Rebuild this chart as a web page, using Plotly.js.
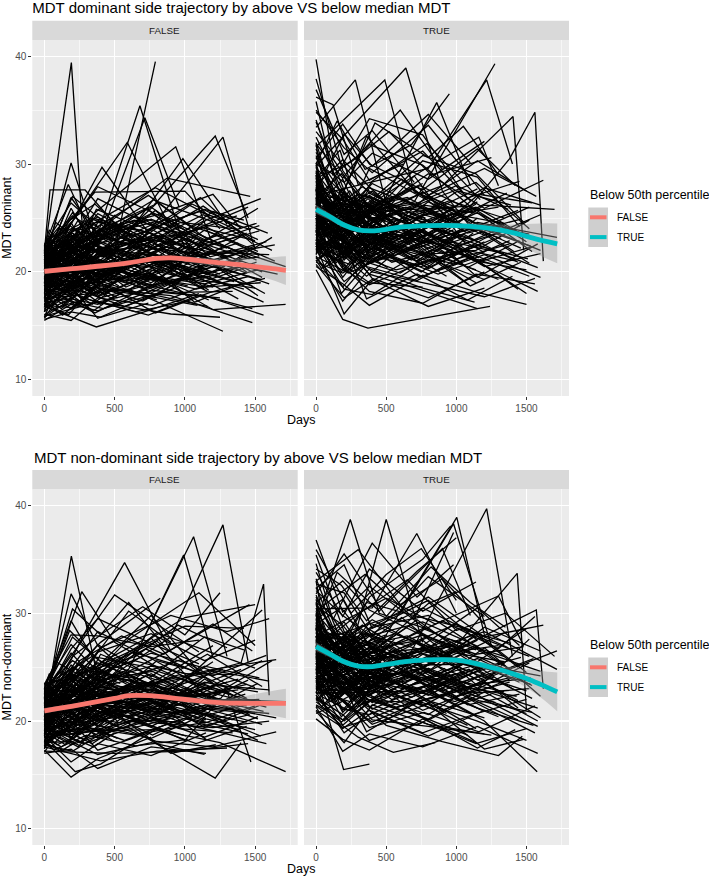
<!DOCTYPE html>
<html>
<head>
<meta charset="utf-8">
<script src="https://cdn.plot.ly/plotly-3.0.1.min.js"></script>
<style>html,body{margin:0;padding:0;background:#fff;}#chart{width:709px;height:876px;}</style>
</head>
<body>
<div id="chart"></div>
<script>
// ---- Data: each subject = [day, value, day, value, ...] ----
const dominantFalseSubjects = [
[0,20.1,190,21.5,370,19.8,740,22.4,1100,20.9],[0,18.4,180,19.2,400,17.6,760,18.9],[0,21.7,192,39.4,280,22.3,560,24.1],
[0,21.9,40,27.6,290,27.6,600,23.0],[0,19.5,500,22.0,790,39.5],[0,20.6,380,23.5,680,35.4,1000,22.1],
[0,21.2,420,24.0,715,34.3,960,26.0],[0,20.8,190,30.1,380,22.5,720,25.0],[0,22.3,170,28.1,410,21.4,800,23.3],
[0,19.9,410,29.7,730,23.8,1100,21.0],[0,21.0,590,32.0,900,24.0],[0,20.4,370,25.6,935,31.6,1200,22.5],
[0,18.9,560,22.9,986,30.5,1300,24.4],[0,21.6,780,26.2,1216,32.6,1450,25.0],[0,19.2,720,23.4,1271,32.5,1500,22.0],
[0,22.1,360,27.4,1000,27.5,1250,24.0],[0,20.0,873,28.7,1465,27.0],[0,16.8,370,14.9,760,16.5,1100,18.0],
[0,17.5,600,18.4,1271,14.5],[0,19.0,900,17.8,1480,15.3],[0,18.2,750,19.9,1200,16.5,1717,17.0],
[0,15.6,190,16.3,400,15.8,740,17.1],[0,15.9,380,17.2,900,16.1,1250,15.8],[0,22.4,200,25.2,390,23.6,780,26.7,1150,23.1],
[0,21.4,180,23.0,360,21.1,730,20.5,1090,22.8,1460,21.2],[0,20.9,210,22.1,400,24.4,760,21.6],
[0,19.7,190,20.8,380,18.6,750,20.2,1130,19.1,1500,20.7],[0,18.8,200,17.9,400,19.5,790,21.7,1170,18.3],
[0,17.9,190,19.6,370,20.4,740,18.2,1110,20.1,1480,18.7],[0,21.8,180,20.2,360,22.7,720,24.8,1080,22.0,1440,23.6],
[0,20.3,200,18.5,410,20.9,800,19.4,1190,21.8,1600,21.6],[0,19.4,190,22.6,390,21.9,780,23.2,1160,20.6,1540,19.3],
[0,22.0,190,24.6,380,20.1,760,22.9,1130,25.3,1520,23.0],[0,16.4,200,18.1,400,17.0,780,19.6,1170,17.4],
[0,17.1,170,16.0,350,18.7,700,17.3,1060,19.8,1420,18.4],[0,18.6,190,20.9,380,22.8,760,20.4,1140,23.9,1520,21.9],
[0,21.1,200,19.3,390,21.6,790,25.7,1180,21.4,1580,22.8],[0,20.7,190,23.7,380,25.1,760,22.2,1130,24.7],
[0,19.1,200,21.2,400,20.0,800,21.1,1200,19.9,1620,23.2],[0,15.8,180,17.4,360,16.2,730,18.6],
[0,22.5,190,26.4,380,24.2,740,27.1,1090,23.8],[0,20.2,170,22.3,340,24.9,690,23.1,1050,26.3,1400,24.1],
[0,18.0,190,18.8,380,21.0,760,19.0,1150,22.3,1550,19.5],[0,21.3,210,21.8,420,19.2,830,23.5,1240,20.4],
[0,19.6,190,19.0,380,23.3,770,24.6,1160,22.1,1560,20.3],[0,17.3,190,20.5,390,18.4,780,17.7,1170,20.9,1570,18.0],
[0,20.5,200,24.1,410,22.0,820,20.7,1220,23.4,1640,21.0],[0,21.5,180,20.7,370,25.8,740,23.9,1110,26.9,1480,22.6],
[0,16.1,190,15.5,380,17.6,770,16.9,1150,18.8],[0,18.5,210,17.2,420,16.6,830,18.1,1250,17.6],
[0,22.2,190,22.9,380,26.8,760,24.3,1140,22.4,1530,23.8],[0,20.0,190,19.6,380,21.4,760,22.8,1150,24.2,1530,21.5],
[0,19.3,200,23.9,400,24.7,790,21.5,1180,19.7],[0,21.9,190,18.9,380,20.6,760,18.5,1140,21.2,1520,17.8],
[0,18.1,190,21.4,370,19.1,740,23.7,1120,20.5,1500,22.4],[0,20.8,180,24.8,360,26.3,720,21.9,1080,24.0,1450,26.0],
[0,17.7,200,19.8,400,21.9,800,20.3,1200,18.6],[0,21.0,190,20.0,380,18.0,760,21.3,1130,19.4,1510,20.9],
[0,19.8,190,22.0,380,23.0,760,25.4,1140,23.0,1510,24.5],[0,16.6,180,18.3,360,19.3,720,17.8,1090,16.9],
[0,22.4,200,21.1,400,23.8,800,22.0,1200,25.6,1590,23.6],[0,20.6,190,26.9,380,23.4,760,26.0,1130,22.7],
[0,18.3,200,20.3,410,19.7,820,22.5,1230,21.0,1660,19.8],[0,21.7,190,23.3,380,21.8,760,19.6,1140,18.9,1520,20.2],
[0,19.0,180,18.1,360,20.2,710,21.0,1070,17.2,1420,19.0],[0,15.5,190,17.0,380,16.4,770,18.3,1160,17.7,1560,16.0],
[0,20.9,200,19.5,400,17.9,800,20.0,1200,22.0],[0,22.0,180,22.5,370,20.7,740,21.7,1100,23.5,1470,21.3],
[0,17.0,190,17.8,380,19.9,770,18.8,1160,19.6,1560,17.2],[0,19.5,190,21.0,370,22.4,740,21.2,1100,20.8,1460,22.0],
[0,21.4,200,25.5,400,22.1,790,24.1],[0,20.3,190,20.1,380,24.6,760,23.6,1130,21.7],
[0,18.7,180,22.7,360,20.8,720,19.3,1080,23.1,1440,20.0],[0,22.3,200,23.6,400,21.5,810,26.5,1210,24.6,1620,22.0],
[0,21.2,190,22.2,380,25.4,770,22.7,1170,20.1],[0,16.9,200,16.7,400,18.9,800,17.4],
[0,19.9,190,19.4,380,17.7,760,19.8,1140,22.6,1530,24.3],[0,20.4,200,23.1,400,24.9,790,27.8,1180,25.2],
[0,18.0,190,16.6,380,18.3,760,20.7,1140,19.2,1500,18.5],[0,21.6,190,21.7,380,23.1,760,24.9,1140,22.9,1520,25.9],
[0,17.4,200,19.1,400,19.0,790,16.2,1180,18.1,1570,19.4],[0,20.2,190,25.9,380,21.6,760,23.3,1130,26.1,1500,22.8],
[0,19.3,180,20.6,370,22.1,750,18.0,1120,20.3],[0,22.1,200,20.4,410,19.0,820,22.1,1230,21.6,1640,22.5],
[0,15.7,180,19.2,370,17.3,740,16.0,1110,17.9,1480,16.6],[0,20.7,190,21.9,380,19.3,760,24.0,1140,25.8,1420,24.8],
[0,18.6,190,19.7,380,22.2,770,23.0,1160,21.9,1550,20.0],[0,21.0,200,27.0,390,25.0,780,22.4],
[0,19.6,180,18.4,370,21.7,740,22.5,1110,19.5,1480,21.8],[0,20.1,190,23.4,380,20.3,770,21.0,1150,24.8,1540,26.8],
[0,17.6,190,18.0,380,20.5,760,21.4,1140,18.4],[0,22.2,180,24.3,360,22.6,730,25.9,1090,21.9],
[0,16.3,190,18.6,380,15.7,770,17.9,1160,16.8],[0,21.5,190,20.9,380,21.2,760,18.7,1150,22.9,1717,20.5],
[0,19.0,200,22.4,400,23.9,800,25.3,1200,27.2,1400,24.0],[0,20.6,190,24.5,380,27.9,760,25.6,1130,23.3,1510,21.1],
[0,18.2,200,21.8,400,20.8,800,19.1,1200,20.7,1600,18.9],[0,21.8,190,19.9,380,22.9,770,20.9,1160,18.2],
[0,20.0,180,22.8,360,19.6,730,23.9,1100,25.6,1470,23.9],[0,17.2,190,17.5,380,17.0,770,19.4,1150,18.6,1540,19.0],
[0,20.5,60,21.8,250,20.6,500,22.0,860,21.4,1250,19.8],[0,19.2,90,18.5,300,20.9,620,19.7,980,22.3],
[0,21.8,45,23.4,230,22.0,560,20.3,900,23.8,1300,22.2],[0,17.8,70,19.0,280,17.5,640,19.9,1020,18.7],
[0,22.0,100,21.0,330,24.2,700,22.6,1060,20.8,1400,23.3],[0,18.9,30,20.1,260,21.6,580,18.6,940,20.6,1350,19.1],
[0,20.8,120,19.0,350,21.0,720,20.4,1100,21.7],[0,16.5,80,17.9,300,19.0,650,18.0,1000,20.2,1380,17.5],
[0,21.3,50,22.6,240,24.0,520,23.0,880,25.0,1260,23.3],[0,19.5,110,20.3,330,18.7,680,21.8,1050,19.3],
[0,22.3,60,20.8,260,22.8,600,24.4,950,21.2,1330,22.0],[0,18.0,90,16.9,290,18.2,640,20.6,1010,17.9],
[0,20.0,40,19.3,220,22.4,540,21.3,900,19.0,1280,20.9],[0,21.1,130,23.0,360,19.9,740,22.0,1120,24.1,1500,22.9],
[0,17.0,75,18.6,280,16.9,610,17.9,980,19.4],[0,19.8,55,21.3,250,19.5,570,22.9,920,23.4,1300,21.4],
[0,22.5,100,24.1,320,21.9,660,23.0,1030,22.6],[0,16.0,85,16.7,300,17.5,650,16.3,1020,17.3],
[0,20.3,65,19.9,270,20.2,600,18.9,960,21.5,1340,20.5],[0,21.6,35,20.6,230,21.7,520,20.0,870,22.3,1250,21.0],
[0,18.3,120,19.7,340,20.7,700,19.6,1080,18.4,1460,19.6],[0,19.0,50,22.0,260,23.5,590,20.8,950,22.8],
[0,22.1,95,22.0,310,20.4,650,21.2,1000,20.1,1380,21.7],[0,20.6,140,21.4,380,22.6,770,23.9,1150,21.3],
[0,17.4,60,17.6,270,19.4,600,19.2,960,18.1,1340,18.2],[0,21.0,85,20.0,300,23.3,640,24.8,1000,23.5,1370,25.2],
[0,19.4,45,18.3,240,19.3,560,20.0,920,18.9],[0,20.9,110,22.4,330,21.1,680,19.9,1050,21.8,1440,19.9],
[0,18.7,70,20.9,280,22.3,620,21.5,980,20.4],[0,22.4,130,21.6,370,23.6,760,21.7,1140,20.7,1530,21.4],
[0,16.9,55,18.2,250,18.3,570,16.8,930,18.5],[0,21.5,80,24.6,300,22.3,630,25.2,990,24.0],
[0,19.7,100,19.2,320,21.8,660,22.3,1030,20.0,1410,21.0],[0,20.2,40,21.1,230,19.0,540,21.0,900,20.8,1290,18.8],
[0,18.5,125,18.0,350,20.0,710,18.5,1090,19.9],[0,21.9,65,22.2,270,23.7,610,22.5,970,24.6,1360,24.0],
[0,20.4,90,18.8,300,19.8,640,22.2,1000,19.6,1400,20.5],[0,17.6,50,19.5,250,20.5,560,19.5,920,19.1],
[0,22.2,115,23.5,340,25.0,700,23.8,1080,22.0],[0,19.1,70,20.5,290,18.9,620,20.9,990,21.0,1380,22.7],
[0,20.7,30,21.5,120,20.0,220,22.3,330,21.0,480,22.9],[0,18.3,40,19.5,140,18.1,250,20.2,370,19.0,520,20.6],
[0,21.5,25,22.8,110,21.3,210,23.5,320,22.0,460,24.0],[0,17.2,50,18.0,150,17.1,260,18.8,390,17.8,540,19.5],
[0,19.4,35,20.9,130,19.6,240,21.4,350,20.3,500,21.9],[0,22.2,45,21.0,145,22.6,255,21.3,380,23.4,530,22.2],
[0,16.3,30,17.5,120,16.6,230,17.9,340,17.0,490,18.4],[0,20.0,55,18.8,160,20.5,270,19.3,400,20.8,560,19.6],
[0,21.2,40,19.8,135,21.8,245,20.4,360,22.5,510,21.1],[0,18.8,30,17.9,125,19.2,235,18.0,345,19.8,495,18.9],
[0,19.9,50,21.8,150,23.0,260,21.9,380,23.6,540,22.8],[0,22.4,35,23.9,130,22.4,240,24.8,355,23.0,505,25.3],
[0,17.8,45,16.8,140,18.4,250,17.3,370,18.6,520,17.6],[0,20.3,25,19.1,115,20.8,220,19.7,330,21.5,470,20.1],
[0,21.8,55,20.9,155,22.0,265,23.2,390,21.6,550,23.7],[0,19.0,40,20.3,135,21.2,245,19.4,360,20.6,510,21.8],
[0,15.8,35,16.9,130,16.0,240,17.2,350,16.4,500,17.8],[0,20.9,45,22.5,145,21.1,255,20.6,380,22.1,530,20.9],
[0,18.5,30,18.9,120,20.4,230,21.1,340,19.5,490,20.3],[0,21.4,50,21.9,150,19.9,260,21.8,380,20.2,540,22.4],
[0,19.6,40,18.4,140,19.7,250,18.9,370,20.7,520,19.3],[0,22.0,35,22.3,130,24.1,240,22.9,350,24.4,500,23.1],
[0,17.5,45,18.7,145,19.3,255,18.1,380,19.9,530,18.7],[0,20.5,30,20.1,125,21.9,235,22.7,345,21.4,495,22.6],
[0,19.2,55,19.8,155,18.6,265,20.1,390,18.8,550,20.8],[0,21.1,40,23.1,135,21.7,245,23.8,360,22.4,510,24.5],
[0,16.7,35,18.1,130,17.7,240,16.8,350,18.5,500,17.4],[0,20.2,50,21.2,150,20.2,260,21.6,380,19.4,540,21.3],
[0,18.0,25,19.3,115,18.7,220,19.9,330,18.3,470,19.8],[0,21.7,45,20.4,145,21.4,255,22.0,380,20.5,530,21.9]
];
const dominantTrueSubjects = [
[0,39.7,120,30.5,300,27.0,600,24.1],[0,37.9,190,29.4,380,26.0,760,28.2],[0,36.2,121,35.5,300,28.1,620,30.0],
[0,33.4,280,37.8,500,26.3,780,25.0],[0,31.6,490,37.8,700,27.4,1000,26.0],[0,29.8,640,38.9,900,27.5,1100,24.2],
[0,20.2,190,15.6,370,14.8,1240,16.8],[0,22.4,200,16.1,380,19.0,760,18.6],[0,26.5,460,26.0,860,35.7,1100,28.0],
[0,24.8,700,26.5,1275,39.3],[0,27.1,800,29.6,1216,37.8,1400,30.0],[0,23.5,900,28.0,1404,34.4,1480,22.0],
[0,25.3,1100,26.1,1380,30.5,1560,34.8,1620,21.0],[0,35.0,200,31.5,400,29.2,800,33.6,1200,27.1],
[0,34.1,180,26.9,360,32.6,720,27.3,1080,25.0],[0,32.5,190,27.5,380,25.1,760,30.3,1150,28.8,1450,24.2],
[0,30.8,200,24.7,400,28.4,790,31.9,1170,26.7],[0,29.4,190,22.6,380,25.5,770,22.9,1160,27.2,1540,26.4],
[0,28.6,170,31.3,350,24.0,700,28.9,1060,22.7],[0,27.9,190,23.4,380,27.8,760,25.9,1140,23.8,1520,26.0],
[0,26.7,200,20.1,400,22.7,800,26.5,1200,24.1,1600,22.0],[0,25.9,190,28.6,380,23.2,770,21.1,1150,25.0],
[0,25.0,180,21.7,360,19.6,720,23.5,1080,20.4,1450,22.9],[0,24.4,200,26.3,400,21.0,800,24.2,1200,22.3,1580,20.4],
[0,23.7,190,19.5,370,22.5,750,20.0,1120,23.6],[0,23.1,190,25.2,380,27.1,760,23.7,1140,21.5,1520,19.6],
[0,22.6,200,18.4,400,17.9,800,21.2,1200,19.3],[0,22.0,180,20.9,360,24.6,730,22.1,1100,18.7,1460,20.9],
[0,21.5,190,17.3,380,20.3,760,18.5,1130,17.2],[0,21.0,200,22.8,400,19.4,800,17.6,1200,20.0],
[0,20.5,190,18.9,380,16.9,760,19.7,1150,18.1,1500,17.0],[0,27.3,190,24.3,380,29.6,770,26.8,1150,30.3,1500,27.5],
[0,28.2,200,26.6,400,23.6,800,20.3,1200,23.1,1600,25.3],[0,26.1,180,22.4,370,25.8,740,28.0,1110,25.7],
[0,24.0,190,27.7,380,24.7,760,27.4,1140,24.5,1520,23.5],[0,31.1,190,25.9,380,21.8,770,24.6,1160,21.3],
[0,29.0,200,21.1,400,23.9,800,22.7,1200,26.2,1700,25.8],[0,27.6,190,25.0,380,26.5,760,30.8,1140,29.1,1480,24.6],
[0,25.6,180,23.8,360,20.5,720,19.2,1080,21.7,1440,18.4],[0,24.6,200,21.3,400,24.3,800,23.0,1200,20.6,1580,18.2],
[0,23.3,190,24.0,380,22.0,770,25.3,1150,27.7],[0,22.8,190,20.6,380,18.2,760,17.1,1140,19.8,1560,18.9],
[0,30.2,200,28.3,400,31.0,800,28.6,1200,32.1],[0,33.0,190,29.9,380,27.3,760,24.9,1150,22.8],
[0,26.9,180,29.1,360,26.2,730,24.0,1090,26.9,1450,28.4],[0,25.2,190,22.1,380,23.4,760,21.6,1140,22.0,1520,24.8],
[0,24.1,200,25.6,400,28.2,800,25.6,1200,23.4],[0,22.3,190,23.1,380,20.8,760,22.4,1150,24.6,1717,23.2],
[0,28.9,190,20.7,380,19.0,760,21.9,1140,20.2],[0,27.0,200,24.9,400,22.6,800,27.1,1200,29.6,1570,27.0],
[0,25.5,190,26.9,370,21.5,750,20.5,1130,22.5,1510,21.2],[0,24.3,180,18.0,360,20.7,720,22.6,1090,18.8],
[0,23.0,190,21.9,380,24.9,770,26.2,1160,25.4,1550,23.0],[0,21.8,200,24.2,400,26.0,800,24.7,1200,21.8],
[0,20.9,190,19.9,380,21.4,760,23.8,1150,20.9,1530,22.3],[0,32.0,180,24.5,370,26.8,740,22.3],
[0,29.6,200,27.2,400,25.4,800,29.1,1200,25.9,1620,28.5],[0,28.0,190,30.4,380,27.9,760,23.3,1140,26.3],
[0,26.3,190,21.6,380,23.0,760,25.1,1140,21.0,1500,20.2],[0,25.1,200,27.4,400,22.3,800,19.8,1200,21.6,1600,19.5],
[0,24.7,180,23.2,360,25.3,720,27.9,1080,23.9,1440,25.7],[0,23.9,190,20.3,380,18.8,760,20.9,1150,22.4],
[0,22.2,200,22.3,400,20.0,800,18.9,1200,17.7,1560,19.4],[0,21.3,190,18.6,380,21.6,760,24.3,1140,22.9],
[0,34.8,190,32.3,380,28.5,760,31.2,1100,26.6],[0,36.9,200,30.9,400,33.1,700,28.3],
[0,30.5,190,33.7,380,30.0,760,27.6,1150,31.4,1420,28.0],[0,27.5,200,32.8,400,29.8,800,34.6,1100,30.1],
[0,26.0,190,30.0,380,34.2,760,32.7,1050,27.3],[0,24.9,190,24.0,380,26.2,770,29.5,1160,32.5,1300,28.0],
[0,23.6,180,26.1,360,23.7,720,21.0,1080,24.4,1460,22.2],[0,22.7,200,19.1,400,21.2,800,23.6,1200,20.5,1600,21.7],
[0,21.2,190,22.4,380,19.8,760,18.3,1150,16.6],[0,29.2,190,26.0,380,24.5,760,26.4,1140,28.3,1520,24.0],
[0,27.7,190,22.9,380,25.7,760,23.2,1150,25.5,1540,21.9],[0,26.2,200,25.8,400,27.5,800,22.9,1200,24.3],
[0,24.2,190,22.9,380,21.2,760,24.6,1140,26.0,1480,23.4],[0,23.2,180,20.0,370,22.8,740,19.5,1110,21.4,1500,18.0],
[0,22.5,190,21.3,380,23.5,760,21.8,1140,19.0],[0,20.7,200,17.6,400,19.3,800,16.8,1200,18.5],
[0,31.9,190,28.7,380,31.8,760,29.9,1140,25.6],[0,28.4,200,23.0,400,26.6,800,24.4,1200,27.8,1600,26.2],
[0,25.8,190,24.4,380,20.9,770,23.9,1150,19.5,1580,22.6],[0,24.5,190,27.0,380,25.0,760,22.0,1140,24.0,1520,20.8],
[0,23.4,200,21.8,400,23.1,800,20.4,1200,22.8],[0,21.7,180,23.5,360,17.5,720,19.8,1080,17.4,1400,19.6],
[0,35.8,120,29.0,300,30.8,600,35.0,900,29.5],[0,33.9,200,27.6,420,33.8,800,30.6,1050,33.5,1300,29.0],
[0,30.0,150,34.0,350,29.5,680,31.8,950,36.5],[0,28.7,250,30.2,520,33.0,820,29.0,1250,30.6],
[0,26.0,60,24.2,260,25.0,580,23.0,940,24.9,1320,23.1],[0,23.8,90,22.5,300,24.1,640,22.0,1000,23.3],
[0,28.3,45,26.7,240,25.6,560,27.0,920,25.2,1300,26.0],[0,24.9,70,26.4,280,23.1,620,21.9,980,23.9],
[0,21.9,100,23.0,330,21.7,690,24.0,1050,22.1,1430,21.0],[0,27.5,30,25.1,250,22.4,590,24.6,950,26.6,1340,25.0],
[0,25.4,120,21.0,350,23.6,720,25.5,1100,24.0],[0,29.7,80,27.0,300,26.4,650,24.4,1010,27.5,1390,26.2],
[0,22.7,50,21.6,240,20.7,530,22.9,890,21.0,1270,23.1],[0,26.8,110,25.7,330,27.9,680,25.0,1050,23.0],
[0,24.3,60,25.8,260,26.5,600,24.8,960,22.7,1340,24.4],[0,30.6,90,28.0,290,23.9,640,26.0,1010,24.6],
[0,23.0,40,22.2,220,23.7,540,20.9,900,22.2,1280,20.6],[0,27.9,130,24.9,360,22.5,740,23.8,1120,25.9,1500,22.8],
[0,25.0,75,23.6,280,22.2,610,24.1,980,21.8],[0,21.4,55,20.4,250,21.8,570,20.2,920,21.3,1300,19.3],
[0,28.8,100,26.2,320,24.8,660,27.8,1030,25.3],[0,24.6,85,24.0,300,25.9,650,26.9,1020,24.3,1420,23.6],
[0,26.4,65,23.5,270,24.0,600,22.8,960,25.4,1340,24.5],[0,22.2,35,21.2,230,19.9,520,21.6,870,19.8,1250,21.5],
[0,31.4,120,27.7,340,25.6,700,26.3,1080,23.6,1460,24.9],[0,25.8,50,27.0,260,24.3,590,25.4,950,26.0],
[0,23.5,95,20.9,310,22.9,650,23.4,1000,21.2,1380,22.6],[0,27.2,140,25.4,380,27.0,770,24.0,1150,26.5],
[0,24.0,60,22.8,270,21.3,600,19.9,960,22.8,1340,21.7],[0,29.2,85,25.5,300,27.2,640,25.9,1000,28.0,1370,25.8],
[0,22.9,45,24.4,240,22.6,560,24.5,920,20.8],[0,26.6,110,22.1,330,23.3,680,21.1,1050,23.5,1440,20.9],
[0,25.1,70,25.9,280,26.9,620,23.9,980,25.8],[0,28.0,130,26.8,370,24.4,760,22.7,1140,24.2,1530,22.4],
[0,21.7,55,22.6,250,23.9,570,22.4,930,19.6],[0,30.0,80,29.3,300,25.2,630,24.7,990,26.1],
[0,24.4,100,23.2,320,20.4,660,22.6,1030,25.1,1410,21.9],[0,26.9,40,24.6,230,26.1,540,23.6,900,21.7,1290,23.9],
[0,23.3,125,24.6,350,21.9,710,20.7,1090,22.0],[0,27.7,65,24.0,270,25.3,610,28.6,970,24.8,1360,27.3],
[0,25.6,90,21.8,300,22.0,640,24.3,1000,22.4,1400,24.0],[0,22.5,50,23.3,250,25.1,560,21.5,920,23.9],
[0,29.0,115,23.8,340,21.2,700,23.1,1080,21.9],[0,24.8,70,26.0,290,24.6,620,22.0,990,20.7,1380,22.9],
[0,26.3,30,25.0,120,23.6,220,24.9,330,23.2,480,25.1],[0,23.4,40,24.5,140,22.6,250,23.8,370,21.9,520,23.5],
[0,28.7,25,27.1,110,25.8,210,27.0,320,24.9,460,26.4],[0,24.6,50,23.0,150,21.5,260,23.3,390,22.1,540,24.2],
[0,21.6,35,22.7,130,21.0,240,22.5,350,20.6,500,22.0],[0,27.8,45,25.5,145,26.3,255,24.4,380,25.9,530,24.0],
[0,25.1,30,26.7,120,24.8,230,26.1,340,23.9,490,25.5],[0,30.1,55,27.6,160,25.7,270,26.8,400,24.6,560,26.6],
[0,22.8,40,21.4,135,22.9,245,21.2,360,23.0,510,21.7],[0,26.9,30,24.3,125,25.4,235,23.5,345,24.8,495,23.0],
[0,24.0,50,25.8,150,24.0,260,25.6,380,26.2,540,24.5],[0,29.3,35,28.0,130,26.1,240,27.5,355,25.3,505,27.0],
[0,23.0,45,22.1,140,20.8,250,22.4,370,21.3,520,22.9],[0,27.2,25,26.0,115,24.4,220,25.2,330,23.7,470,24.8],
[0,25.5,55,23.7,155,24.6,265,22.8,390,24.1,550,23.3],[0,21.1,40,20.3,135,21.7,245,20.1,360,21.6,510,20.4],
[0,31.8,35,29.4,130,27.3,240,26.0,350,27.2,500,25.6],[0,24.3,45,25.2,145,23.3,255,24.7,380,22.6,530,24.0],
[0,26.0,30,24.7,120,26.4,230,24.2,340,25.7,490,23.8],[0,22.3,50,23.6,150,22.2,260,21.0,380,22.7,540,21.4],
[0,28.1,40,26.6,140,24.7,250,25.9,370,24.0,520,25.4],[0,25.0,35,23.2,130,23.9,240,22.3,350,23.6,500,22.8],
[0,23.7,45,24.8,145,23.6,255,22.9,380,24.4,530,23.1],[0,27.6,30,25.8,125,27.2,235,25.0,345,26.5,495,24.6],
[0,24.8,55,22.6,155,23.4,265,24.5,390,23.0,550,24.9],[0,29.9,40,27.3,135,26.0,245,24.1,360,25.4,510,23.9],
[0,22.0,35,22.9,130,24.0,240,22.7,350,21.6,500,23.3],[0,26.5,50,25.3,150,23.8,260,25.0,380,23.4,540,25.7],
[0,23.9,25,21.9,115,22.8,220,21.5,330,22.9,470,21.2],[0,28.4,45,27.0,145,25.1,255,26.4,380,24.3,530,26.0]
];
const nonDominantFalseSubjects = [
[0,20.4,192,35.3,380,24.0,760,21.5],[0,21.6,190,31.8,380,27.0,700,23.2],[0,22.1,266,32.0,500,27.3,800,25.0],
[0,20.8,300,28.5,571,34.7,900,26.5],[0,19.9,400,25.4,700,27.5,991,35.4,1200,25.9],[0,21.2,600,24.8,1062,37.1,1300,26.0],
[0,20.1,900,27.8,1271,38.2,1450,25.5],[0,22.6,500,31.7,800,29.0,1100,26.4],[0,21.9,400,27.3,825,31.4],
[0,20.6,900,26.6,1460,30.8],[0,21.3,1000,24.0,1400,25.4,1560,32.7,1600,22.4],[0,22.8,1000,28.8,1420,28.6],
[0,17.3,190,14.8,380,16.5,760,18.5],[0,18.5,600,19.4,1216,14.7,1400,18.0],[0,19.0,800,19.2,1250,18.0,1717,15.3],
[0,17.0,190,17.4,380,15.6,760,17.6,1150,17.0],[0,17.6,400,16.3,800,17.2,1300,17.5],
[0,23.4,190,28.0,380,27.9,760,26.9,1100,27.5],[0,23.1,200,25.6,400,24.0,800,28.2,1200,26.3,1500,24.9],
[0,22.4,190,26.3,380,23.7,760,25.1,1150,24.0],[0,22.0,180,23.9,360,25.9,720,23.0,1080,22.3,1440,23.4],
[0,21.7,200,21.2,400,23.4,800,24.9,1200,22.6,1580,21.3],[0,21.4,190,23.3,380,21.9,760,21.2,1140,23.6,1520,22.7],
[0,21.1,190,19.8,380,22.5,760,23.6,1150,20.5,1540,21.9],[0,20.9,200,22.6,400,20.4,800,22.7,1200,21.8],
[0,20.7,180,24.5,360,22.8,720,20.1,1090,22.9,1460,20.6],[0,20.5,190,21.6,380,24.3,760,26.3,1140,24.9,1500,23.1],
[0,20.3,200,19.0,400,20.9,800,19.8,1200,19.4,1600,20.0],[0,20.0,190,22.1,380,19.4,760,21.9,1140,20.0],
[0,19.8,190,20.4,380,21.2,770,18.7,1160,21.1,1550,19.7],[0,19.6,180,18.2,360,19.9,720,22.2,1090,19.8,1450,18.8],
[0,19.4,200,21.0,400,22.2,800,20.6,1200,23.1],[0,19.2,190,17.8,380,18.6,760,20.3,1140,18.5,1520,20.4],
[0,19.0,190,20.0,380,17.3,760,19.0,1150,19.9],[0,18.8,200,18.8,400,20.1,800,18.1,1200,17.6,1650,19.0],
[0,18.6,190,16.2,380,17.9,760,16.8,1150,18.9],[0,18.3,180,19.5,360,21.0,720,19.6,1080,17.9,1440,19.5],
[0,18.0,190,18.1,380,16.9,760,18.0,1140,16.9],[0,17.8,200,17.2,400,18.8,800,20.2,1200,19.1,1580,17.9],
[0,23.0,190,22.7,380,26.4,760,28.1,1140,25.6,1500,27.5],[0,22.7,200,27.8,400,25.5,800,23.8,1200,27.0],
[0,22.3,190,24.9,380,28.3,760,25.8,1150,23.0,1550,25.6],[0,21.8,180,22.0,360,24.1,720,26.7,1080,24.5,1440,22.1],
[0,21.5,190,24.1,380,20.7,760,22.4,1140,25.1,1530,24.0],[0,21.0,200,20.8,400,23.9,800,21.0,1200,23.3,1600,22.9],
[0,20.6,190,23.0,380,22.0,760,24.4,1140,21.7],[0,20.2,190,20.9,380,23.1,770,23.3,1160,26.2,1550,23.2],
[0,19.7,180,22.8,360,20.6,720,22.9,1090,21.6,1450,23.8],[0,19.3,200,19.9,400,21.5,800,23.9,1200,21.2,1600,20.7],
[0,18.9,190,21.9,380,20.0,760,21.6,1140,22.4],[0,18.4,190,20.7,380,22.6,760,20.9,1150,20.7,1540,18.6],
[0,18.1,200,19.3,400,19.1,800,21.4,1200,20.4],[0,17.5,190,20.2,380,19.6,760,18.4,1140,20.6,1520,18.2],
[0,22.9,190,29.3,380,25.1,760,29.8,1100,24.6],[0,22.5,180,28.4,360,26.0,600,30.2,900,27.3],
[0,21.7,200,26.0,420,28.2,700,30.6,1000,28.0,1250,31.9],[0,20.9,250,25.6,550,27.9,850,26.2,1200,29.0,1480,26.5],
[0,22.2,300,24.6,650,26.0,950,28.9,1300,26.8],[0,21.3,190,25.2,380,23.0,760,27.7,1140,22.4,1420,21.0],
[0,20.4,200,21.3,400,26.2,800,24.0,1200,22.0,1717,21.8],[0,19.5,190,24.3,380,21.8,760,20.0,1140,23.9,1450,21.6],
[0,23.3,190,27.1,380,24.6,760,23.1,1140,21.0,1520,23.5],[0,22.8,200,23.7,400,21.2,800,25.6,1200,24.2,1580,26.1],
[0,18.7,190,23.5,380,21.3,760,23.0,1150,20.2,1500,19.2],[0,20.0,180,18.9,360,22.4,720,21.4,1080,23.2,1400,24.8],
[0,21.6,190,20.3,380,19.0,760,22.6,1140,19.4,1560,21.6],[0,20.8,200,25.0,400,23.8,800,22.1,1200,25.5],
[0,19.1,190,22.4,380,24.9,760,22.5,1140,21.9,1620,25.6],[0,17.9,190,19.7,380,21.5,760,22.0,1150,18.3],
[0,22.0,200,30.4,400,28.0,600,31.0,850,27.0],[0,19.6,600,27.6,1100,31.9,1500,27.0],
[0,21.0,350,23.5,600,26.4,1000,29.6,1500,30.8],[0,20.3,400,26.8,900,29.8,1300,28.3,1600,29.5],
[0,22.4,900,22.6,1550,30.3],[0,21.2,1200,24.8,1650,25.7],[0,20.6,180,19.4,500,20.7,900,17.0,1220,17.8],
[0,19.4,600,20.5,1000,18.2,1300,22.8,1470,16.2],[0,18.2,220,15.3,400,16.0,800,19.3],[0,17.2,500,17.0,1000,17.2,1450,17.9],
[0,23.5,190,23.9,380,27.1,760,24.1,1140,27.8,1420,26.6],[0,21.9,190,21.5,380,20.3,760,23.7,1140,22.1,1560,20.9],
[0,20.7,190,23.8,380,25.4,760,23.4,1150,21.2],[0,19.9,200,21.7,400,22.9,800,21.1,1200,24.7,1600,23.7],
[0,21.4,190,19.1,380,21.4,760,19.5,1140,22.0,1520,20.2],[0,22.6,200,22.4,400,25.0,800,27.4,1200,23.5],
[0,18.5,190,20.8,380,18.4,760,20.9,1140,19.8,1500,21.4],[0,20.1,180,22.9,360,21.7,720,24.2,1080,20.8,1440,19.9],
[0,19.3,190,18.5,380,20.5,760,21.8,1150,20.1],[0,23.2,200,24.4,400,22.9,800,20.4,1200,21.4,1650,20.3],
[0,22.2,190,26.7,380,29.5,760,27.2,1100,25.3],
[0,21.0,60,22.1,260,21.4,580,23.3,940,21.9,1320,22.8],[0,19.6,90,18.7,300,20.6,640,21.0,1000,19.2],
[0,22.4,45,23.9,240,22.9,560,24.6,920,22.1,1300,23.6],[0,18.4,70,19.6,280,18.3,620,20.1,980,19.9],
[0,20.6,100,21.4,330,23.6,690,22.1,1050,20.9,1430,22.5],[0,19.1,30,20.6,250,21.9,590,20.4,950,21.6,1340,20.1],
[0,21.7,120,20.0,350,21.9,720,23.6,1100,22.0],[0,17.7,80,18.9,300,19.4,650,18.7,1010,20.3,1390,19.2],
[0,22.0,50,22.8,240,25.3,530,24.0,890,23.0,1270,24.8],[0,20.0,110,20.9,330,19.5,680,21.6,1050,20.3],
[0,23.1,60,21.5,260,23.3,600,22.8,960,24.3,1340,22.4],[0,18.9,90,17.8,290,19.0,640,20.0,1010,18.6],
[0,20.4,40,20.0,220,22.1,540,21.8,900,20.7,1280,21.9],[0,21.5,130,23.3,360,21.5,740,21.0,1120,23.2,1500,21.8],
[0,17.6,75,19.1,280,17.9,610,19.3,980,20.5],[0,20.9,55,22.5,250,20.8,570,22.4,920,24.1,1300,22.7],
[0,22.8,100,24.6,320,22.7,660,21.9,1030,23.1],[0,18.1,85,17.4,300,18.7,650,17.7,1020,18.3],
[0,21.2,65,21.0,270,21.1,600,20.5,960,22.5,1340,21.2],[0,22.6,35,21.8,230,22.3,520,23.9,870,21.3,1250,22.1],
[0,19.3,120,20.1,340,21.6,700,21.2,1080,19.4,1460,20.6],[0,20.1,50,22.7,260,24.5,590,22.6,950,20.8],
[0,23.0,95,22.3,310,21.5,650,23.0,1000,22.5,1380,23.9],[0,21.4,140,22.5,380,23.8,770,24.6,1150,22.2],
[0,18.6,60,18.3,270,20.3,600,20.9,960,19.3,1340,18.9],[0,21.8,85,20.7,300,24.0,640,25.6,1000,24.4,1370,24.3],
[0,20.3,45,19.2,240,20.4,560,19.8,920,21.2],[0,21.9,110,23.2,330,22.4,680,21.4,1050,22.7,1440,21.4],
[0,19.8,70,21.8,280,23.0,620,22.9,980,21.4],[0,22.9,130,22.8,370,24.4,760,23.3,1140,21.9,1530,22.0],
[0,18.0,55,19.4,250,19.7,570,18.2,930,20.0],[0,22.2,80,25.5,300,23.9,630,26.4,990,25.0],
[0,20.7,100,20.3,320,22.9,660,24.0,1030,21.3,1410,20.8],[0,21.3,40,22.0,230,20.6,540,22.3,900,21.9,1290,19.9],
[0,19.5,125,19.0,350,21.3,710,19.9,1090,21.0],[0,22.7,65,23.1,270,24.8,610,24.0,970,25.7,1360,23.0],
[0,21.1,90,19.7,300,20.9,640,23.5,1000,20.6,1400,21.9],[0,18.8,50,20.5,250,21.4,560,21.0,920,20.2],
[0,23.3,115,24.2,340,26.0,700,25.1,1080,23.4],[0,20.0,70,21.3,290,20.1,620,22.1,990,22.3,1380,22.9],
[0,21.2,30,22.0,120,20.8,220,23.0,330,21.8,480,23.6],[0,18.8,40,20.0,140,18.8,250,20.8,370,19.7,520,21.3],
[0,22.1,25,23.3,110,22.0,210,24.1,320,22.7,460,24.6],[0,17.9,50,18.6,150,17.8,260,19.5,390,18.6,540,20.2],
[0,20.0,35,21.4,130,20.2,240,22.0,350,21.0,500,22.6],[0,22.7,45,21.6,145,23.2,255,21.9,380,24.0,530,22.9],
[0,17.4,30,18.3,120,17.6,230,18.6,340,17.9,490,19.2],[0,20.5,55,19.4,160,21.1,270,20.0,400,21.5,560,20.3],
[0,21.6,40,20.4,135,22.3,245,21.0,360,23.1,510,21.8],[0,19.3,30,18.5,125,19.9,235,18.7,345,20.5,495,19.6],
[0,20.4,50,22.3,150,23.6,260,22.5,380,24.2,540,23.5],[0,23.0,35,24.4,130,23.0,240,25.3,355,23.7,505,25.9],
[0,18.3,45,17.5,140,19.0,250,18.0,370,19.3,520,18.4],[0,20.9,25,19.7,115,21.4,220,20.4,330,22.2,470,20.8],
[0,22.3,55,21.5,155,22.6,265,23.9,390,22.3,550,24.3],[0,19.6,40,20.8,135,21.8,245,20.1,360,21.3,510,22.5],
[0,17.1,35,17.8,130,17.3,240,18.2,350,17.6,500,18.9],[0,21.4,45,23.0,145,21.7,255,21.3,380,22.8,530,21.6],
[0,19.0,30,19.5,120,21.0,230,21.8,340,20.2,490,21.0],[0,21.9,50,22.4,150,20.5,260,22.5,380,20.9,540,23.1],
[0,20.1,40,19.0,140,20.3,250,19.6,370,21.4,520,20.0],[0,22.5,35,22.9,130,24.6,240,23.6,350,25.1,500,23.8],
[0,18.1,45,19.3,145,19.9,255,18.8,380,20.6,530,19.4],[0,21.0,30,20.7,125,22.5,235,23.4,345,22.1,495,23.3],
[0,19.8,55,20.4,155,19.2,265,20.8,390,19.5,550,21.5],[0,21.7,40,23.6,135,22.3,245,24.5,360,23.1,510,25.2],
[0,17.7,35,18.8,130,18.4,240,17.6,350,19.2,500,18.1],[0,20.7,50,21.8,150,20.8,260,22.3,380,20.1,540,22.0],
[0,18.6,25,19.9,115,19.3,220,20.6,330,19.0,470,20.5],[0,22.2,45,21.0,145,22.0,255,22.7,380,21.2,530,22.6]
];
const nonDominantTrueSubjects = [
[0,24.2,196,15.5,380,16.0],[0,21.4,300,18.5,551,17.1,850,18.0],[0,23.0,600,24.5,1216,39.7,1400,26.0],
[0,25.6,500,28.0,1003,38.9,1200,28.0],[0,27.3,600,30.0,980,38.3,1250,27.0],[0,29.1,244,38.7,450,30.0,800,28.5],
[0,26.5,258,27.0,500,38.7,760,27.3],[0,30.4,400,30.5,718,37.4,1000,30.0],[0,22.6,800,22.8,1200,20.0,1576,15.3],
[0,24.9,1000,27.0,1434,33.7,1500,21.0],[0,23.8,900,26.0,1570,30.3,1620,23.0],[0,36.8,190,30.1,380,32.5,760,28.8,1100,26.3],
[0,35.4,200,28.3,400,26.3,800,30.9,1000,32.0],[0,34.1,180,32.6,360,29.3,720,33.9,1000,37.0],
[0,33.2,190,27.0,380,31.5,760,35.0,960,38.1],[0,32.3,200,34.5,400,28.6,800,31.2,1150,27.5],
[0,31.5,190,26.0,380,29.1,760,27.0,1150,30.5,1450,27.0],[0,30.7,190,28.9,380,25.8,760,28.6,1140,26.6],
[0,29.8,200,25.2,400,27.7,800,24.6,1200,28.7,1600,26.5],[0,29.0,180,30.5,360,27.4,720,25.5,1080,27.1],
[0,28.3,190,24.6,380,22.9,760,26.2,1150,24.3,1500,22.8],[0,27.7,200,27.6,400,24.4,800,22.4,1200,25.0],
[0,27.1,190,23.1,380,25.7,760,27.5,1140,23.4,1530,24.0],[0,26.6,190,26.7,380,23.0,770,24.1,1160,21.9,1540,20.8],
[0,26.1,180,22.3,360,24.6,720,22.8,1090,25.6,1450,23.6],[0,25.7,200,24.0,400,21.7,800,24.9,1200,22.8,1580,21.2],
[0,25.3,190,20.8,380,23.5,760,21.4,1140,24.0],[0,24.8,190,25.4,380,26.8,760,23.5,1150,21.2,1550,19.6],
[0,24.4,200,21.7,400,19.9,800,22.1,1200,23.6,1600,20.3],[0,24.0,180,23.6,360,21.4,720,19.6,1080,22.2,1440,20.1],
[0,23.6,190,19.6,380,21.8,760,23.2,1140,20.5],[0,23.1,190,22.0,380,19.4,770,20.8,1160,19.0,1560,21.4],
[0,22.7,200,18.9,400,20.8,800,18.6,1200,21.0],[0,22.2,190,20.6,380,18.2,760,19.9,1140,17.9,1500,19.3],
[0,21.8,180,19.9,360,22.0,720,20.6,1080,18.7],[0,21.3,190,17.2,380,18.8,760,17.6,1150,19.5,1580,17.0],
[0,20.7,200,21.9,400,19.7,800,21.6,1200,17.4,1480,18.3],[0,20.2,190,18.3,380,17.3,760,20.2,1140,18.0],
[0,33.8,190,29.7,380,34.1,760,30.2,1140,32.9],[0,32.7,200,31.9,400,27.9,800,33.4,1200,29.7],
[0,31.0,190,33.0,380,30.3,760,27.9,1150,25.5,1500,28.6],[0,30.0,180,27.3,360,31.0,720,29.7,1090,28.5,1440,25.0],
[0,29.4,190,31.3,380,26.9,760,25.0,1140,27.9,1520,26.0],[0,28.6,200,26.2,400,28.7,800,29.8,1200,26.4,1600,24.6],
[0,28.0,190,28.1,380,24.0,760,26.8,1150,24.9],[0,27.4,190,25.5,380,27.3,760,24.2,1140,22.9,1520,25.4],
[0,26.9,200,29.2,400,25.2,800,27.8,1200,25.7,1580,23.4],[0,26.3,180,24.7,360,26.1,720,29.4,1080,26.0],
[0,25.9,190,22.6,380,24.4,760,22.6,1150,24.6,1540,22.1],[0,25.5,200,26.0,400,22.3,800,20.6,1200,23.9,1717,26.5],
[0,25.0,190,23.4,380,25.2,760,25.8,1140,28.2,1500,24.5],[0,24.6,180,20.4,360,22.6,720,24.7,1080,21.5,1450,22.5],
[0,24.2,200,23.0,400,24.9,800,21.9,1200,20.3],[0,23.8,190,25.9,380,23.8,760,21.0,1150,23.0,1520,27.6],
[0,23.3,190,21.1,380,20.6,770,22.7,1160,25.0],[0,22.9,200,22.8,400,23.3,800,25.7,1200,22.0,1580,19.5],
[0,22.4,190,19.3,380,21.0,760,18.9,1140,20.7,1500,22.0],[0,21.9,180,23.7,360,19.0,720,21.8,1080,19.6],
[0,21.5,190,20.1,380,22.7,760,24.6,1150,21.6,1560,18.9],[0,20.9,200,18.0,400,21.5,800,19.7,1200,18.8],
[0,35.9,250,30.0,500,33.6,750,36.0,1000,31.2],[0,34.6,120,29.4,400,36.5,720,31.5,980,34.5],
[0,33.0,300,35.9,600,30.8,900,33.2,1200,29.0],[0,31.8,200,35.5,500,29.7,820,34.3,1100,31.0,1350,28.7],
[0,30.2,350,33.6,700,29.5,980,37.5],[0,28.8,150,33.8,450,30.2,900,36.0,1100,29.8],
[0,27.9,500,31.4,850,29.0,1300,31.6,1480,27.0],[0,26.8,300,29.9,650,33.1,1000,28.4,1350,30.0,1700,26.0],
[0,25.2,400,28.8,800,31.5,1200,27.8,1620,28.9],[0,24.5,450,26.5,900,29.3,1300,26.7,1560,29.7],
[0,29.6,190,25.9,380,27.9,760,29.2,1140,27.0,1500,23.7],[0,27.2,200,24.8,400,26.4,800,23.1,1200,26.8,1600,22.3],
[0,26.0,190,27.8,380,25.5,760,26.7,1150,23.8,1550,25.8],[0,24.7,180,22.5,360,24.1,720,23.0,1090,24.8,1440,21.2],
[0,23.5,190,24.3,380,22.4,760,24.9,1140,22.3,1500,20.7],[0,22.1,200,20.0,400,22.0,800,20.1,1200,22.7,1580,20.0],
[0,21.0,190,19.4,380,20.2,760,22.2,1140,19.3],[0,26.4,190,21.0,380,23.9,760,20.3,1150,17.5,1420,19.2],
[0,28.5,180,23.3,500,19.6,900,18.1,1300,16.8,1470,18.6],[0,25.8,400,20.1,800,19.5,1250,18.7],
[0,23.9,190,26.4,380,28.2,760,25.2,1140,25.3,1600,24.2],[0,27.5,200,22.6,400,24.7,800,27.1,1200,24.4],
[0,30.9,190,27.1,380,24.9,760,23.8,1150,25.8,1540,23.3],[0,24.1,190,24.5,380,26.3,760,28.0,1140,26.2,1480,26.9],
[0,22.5,200,23.9,400,21.1,800,23.4,1200,20.9],[0,32.1,190,29.8,380,28.0,760,30.5,1100,28.3],
[0,26.7,190,25.3,380,21.3,760,23.9,1140,22.6,1520,23.0],[0,23.2,180,21.9,360,23.2,720,25.3,1080,23.1,1440,24.2],
[0,28.1,200,27.5,400,29.4,800,26.6,1200,28.3,1717,24.8],[0,25.4,190,23.7,380,21.9,760,21.7,1150,20.0,1500,18.2],
[0,27.0,60,25.2,260,26.0,580,24.1,940,25.9,1320,24.6],[0,24.8,90,23.6,300,25.0,640,23.2,1000,24.4],
[0,29.5,45,27.6,240,26.5,560,28.1,920,26.3,1300,27.0],[0,25.9,70,27.3,280,24.1,620,23.0,980,25.0],
[0,22.9,100,24.1,330,22.8,690,25.1,1050,23.2,1430,22.3],[0,28.6,30,26.0,250,23.5,590,25.7,950,27.6,1340,26.0],
[0,26.3,120,22.0,350,24.6,720,26.4,1100,25.1],[0,30.8,80,28.1,300,27.4,650,25.5,1010,28.6,1390,27.2],
[0,23.7,50,22.6,240,21.8,530,24.0,890,22.2,1270,24.1],[0,27.8,110,26.7,330,28.9,680,26.1,1050,24.1],
[0,25.3,60,26.8,260,27.5,600,25.9,960,23.8,1340,25.4],[0,31.7,90,29.0,290,24.9,640,27.0,1010,25.7],
[0,24.0,40,23.2,220,24.8,540,22.0,900,23.3,1280,21.7],[0,28.9,130,25.9,360,23.6,740,24.9,1120,26.9,1500,23.8],
[0,26.0,75,24.6,280,23.3,610,25.2,980,22.9],[0,22.4,55,21.5,250,22.9,570,21.3,920,22.4,1300,20.4],
[0,29.8,100,27.2,320,25.8,660,28.8,1030,26.3],[0,25.6,85,25.0,300,26.9,650,27.9,1020,25.3,1420,24.6],
[0,27.4,65,24.5,270,25.0,600,23.9,960,26.4,1340,25.5],[0,23.2,35,22.3,230,21.0,520,22.7,870,20.9,1250,22.5],
[0,32.4,120,28.7,340,26.6,700,27.4,1080,24.6,1460,25.9],[0,26.8,50,28.0,260,25.3,590,26.5,950,27.0],
[0,24.5,95,22.0,310,24.0,650,24.5,1000,22.3,1380,23.6],[0,28.2,140,26.4,380,28.0,770,25.0,1150,27.5],
[0,25.0,60,23.9,270,22.4,600,21.0,960,23.9,1340,22.7],[0,30.2,85,26.5,300,28.2,640,27.0,1000,29.0,1370,26.8],
[0,23.9,45,25.4,240,23.7,560,25.6,920,21.9],[0,27.6,110,23.2,330,24.4,680,22.2,1050,24.5,1440,21.9],
[0,26.1,70,26.9,280,27.9,620,25.0,980,26.8],[0,29.0,130,27.8,370,25.4,760,23.8,1140,25.2,1530,23.4],
[0,22.7,55,23.6,250,24.9,570,23.5,930,20.7],[0,31.0,80,30.3,300,26.2,630,25.8,990,27.1],
[0,25.4,100,24.2,320,21.5,660,23.7,1030,26.1,1410,22.9],[0,27.9,40,25.6,230,27.1,540,24.7,900,22.8,1290,24.9],
[0,24.3,125,25.6,350,23.0,710,21.8,1090,23.0],[0,28.7,65,25.0,270,26.3,610,29.6,970,25.8,1360,28.3],
[0,26.6,90,22.9,300,23.1,640,25.3,1000,23.5,1400,25.0],[0,23.5,50,24.3,250,26.1,560,22.6,920,24.9],
[0,30.0,115,24.8,340,22.3,700,24.2,1080,23.0],[0,25.8,70,27.0,290,25.6,620,23.1,990,21.8,1380,23.9],
[0,27.3,30,26.0,120,24.6,220,25.9,330,24.2,480,26.1],[0,24.4,40,25.5,140,23.6,250,24.8,370,22.9,520,24.5],
[0,29.9,25,28.1,110,26.8,210,28.0,320,25.9,460,27.4],[0,25.6,50,24.0,150,22.5,260,24.3,390,23.1,540,25.2],
[0,22.6,35,23.7,130,22.0,240,23.5,350,21.6,500,23.0],[0,28.8,45,26.5,145,27.3,255,25.4,380,26.9,530,25.0],
[0,26.1,30,27.7,120,25.8,230,27.1,340,24.9,490,26.5],[0,31.3,55,28.6,160,26.7,270,27.8,400,25.6,560,27.6],
[0,23.8,40,22.4,135,23.9,245,22.2,360,24.0,510,22.7],[0,27.9,30,25.3,125,26.4,235,24.5,345,25.8,495,24.0],
[0,25.0,50,26.8,150,25.0,260,26.6,380,27.2,540,25.5],[0,30.5,35,29.0,130,27.1,240,28.5,355,26.3,505,28.0],
[0,24.0,45,23.1,140,21.8,250,23.4,370,22.3,520,23.9],[0,28.2,25,27.0,115,25.4,220,26.2,330,24.7,470,25.8],
[0,26.5,55,24.7,155,25.6,265,23.8,390,25.1,550,24.3],[0,22.1,40,21.3,135,22.7,245,21.1,360,22.6,510,21.4],
[0,33.0,35,30.4,130,28.3,240,27.0,350,28.2,500,26.6],[0,25.3,45,26.2,145,24.3,255,25.7,380,23.6,530,25.0],
[0,27.0,30,25.7,120,27.4,230,25.2,340,26.7,490,24.8],[0,23.3,50,24.6,150,23.2,260,22.0,380,23.7,540,22.4],
[0,29.1,40,27.6,140,25.7,250,26.9,370,25.0,520,26.4],[0,26.0,35,24.2,130,24.9,240,23.3,350,24.6,500,23.8],
[0,24.7,45,25.8,145,24.6,255,23.9,380,25.4,530,24.1],[0,28.6,30,26.8,125,28.2,235,26.0,345,27.5,495,25.6],
[0,25.8,55,23.6,155,24.4,265,25.5,390,24.0,550,25.9],[0,31.0,40,28.3,135,27.0,245,25.1,360,26.4,510,24.9],
[0,23.0,35,23.9,130,25.0,240,23.7,350,22.6,500,24.3],[0,27.5,50,26.3,150,24.8,260,26.0,380,24.4,540,26.7],
[0,24.9,25,22.9,115,23.8,220,22.5,330,23.9,470,22.2],[0,29.4,45,28.0,145,26.1,255,27.4,380,25.3,530,27.0]
];

// ---- Loess smooths (fit with 95% band) ----
const domFalseDays  = [0,200,400,600,800,900,1000,1200,1400,1500,1600,1719];
const domFalseFit   = [20.05,20.3,20.55,20.85,21.25,21.3,21.2,20.9,20.65,20.5,20.35,20.15];
const domFalseUpper = [20.3,20.5,20.75,21.05,21.45,21.5,21.45,21.25,21.25,21.3,21.35,21.45];
const domFalseLower = [19.8,20.1,20.35,20.65,21.05,21.1,20.95,20.55,20.05,19.7,19.35,18.8];

const domTrueDays  = [0,100,200,300,400,500,600,800,1000,1200,1400,1500,1600,1719];
const domTrueFit   = [25.8,25.1,24.35,23.9,23.8,23.95,24.15,24.3,24.3,24.1,23.65,23.3,22.95,22.6];
const domTrueUpper = [26.2,25.4,24.6,24.1,24.0,24.15,24.35,24.5,24.55,24.45,24.4,24.45,24.5,24.5];
const domTrueLower = [25.4,24.8,24.1,23.7,23.6,23.75,23.95,24.1,24.05,23.75,22.9,22.2,21.5,20.8];

const ndomFalseDays  = [0,250,500,600,750,1000,1250,1400,1500,1600,1719];
const ndomFalseFit   = [20.95,21.5,22.1,22.35,22.35,22.0,21.7,21.65,21.64,21.64,21.64];
const ndomFalseUpper = [21.2,21.7,22.3,22.55,22.55,22.25,22.05,22.25,22.5,22.75,23.0];
const ndomFalseLower = [20.7,21.3,21.9,22.15,22.15,21.75,21.35,21.05,20.8,20.55,20.25];

const ndomTrueDays  = [0,100,200,300,400,500,700,900,1000,1100,1300,1400,1500,1600,1719];
const ndomTrueFit   = [26.9,26.2,25.5,25.1,25.05,25.25,25.6,25.7,25.65,25.45,24.8,24.4,23.95,23.4,22.7];
const ndomTrueUpper = [27.3,26.5,25.75,25.3,25.25,25.45,25.8,25.9,25.9,25.7,25.2,25.0,24.8,24.65,24.5];
const ndomTrueLower = [26.5,25.9,25.25,24.9,24.85,25.05,25.4,25.5,25.4,25.2,24.4,23.8,23.1,22.2,20.9];

const facetLabels = ["FALSE","TRUE"];
const legendTitle = "Below 50th percentile";
const xTicks = [0,500,1000,1500];
const yTicks = [10,20,30,40];
const colors = {FALSE:"#F8766D", TRUE:"#00BFC4"};

// ---- Build traces ----
function flatten(subjects){
  const x=[], y=[];
  subjects.forEach(s=>{ for(let i=0;i<s.length;i+=2){x.push(s[i]); y.push(s[i+1]);} x.push(null); y.push(null); });
  return {x,y};
}
const FONT = "Liberation Sans, Arial, Helvetica, sans-serif";
const traces = [];
function addPanel(subjects, days, fit, lo, hi, color, xa, ya){
  const f = flatten(subjects);
  traces.push({type:"scatter", mode:"lines", x:f.x, y:f.y, xaxis:xa, yaxis:ya,
    line:{color:"#000000", width:1.3}, connectgaps:false, hoverinfo:"skip", showlegend:false});
  traces.push({type:"scatter", mode:"lines", x:days, y:lo, xaxis:xa, yaxis:ya,
    line:{width:0, shape:"spline"}, hoverinfo:"skip", showlegend:false});
  traces.push({type:"scatter", mode:"lines", x:days, y:hi, xaxis:xa, yaxis:ya, fill:"tonexty",
    fillcolor:"rgba(153,153,153,0.4)", line:{width:0, shape:"spline"}, hoverinfo:"skip", showlegend:false});
  traces.push({type:"scatter", mode:"lines", x:days, y:fit, xaxis:xa, yaxis:ya,
    line:{color:color, width:4.8, shape:"spline"}, hoverinfo:"skip", showlegend:false});
}
addPanel(dominantFalseSubjects, domFalseDays, domFalseFit, domFalseLower, domFalseUpper, colors.FALSE, "x", "y");
addPanel(dominantTrueSubjects, domTrueDays, domTrueFit, domTrueLower, domTrueUpper, colors.TRUE, "x2", "y2");
addPanel(nonDominantFalseSubjects, ndomFalseDays, ndomFalseFit, ndomFalseLower, ndomFalseUpper, colors.FALSE, "x3", "y3");
addPanel(nonDominantTrueSubjects, ndomTrueDays, ndomTrueFit, ndomTrueLower, ndomTrueUpper, colors.TRUE, "x4", "y4");

// ---- Geometry (pixels -> paper) ----
const W=709, H=876;
const px = v => v/W, py = v => 1 - v/H;
const colL = [px(32.3), px(297.7)], colR = [px(304), px(569)];
const rowTop = [py(396), py(40)], rowBot = [py(845), py(489.3)];

function xAxis(domain, anchor){
  return {domain, anchor, range:[-86,1803], tickvals:xTicks, ticktext:xTicks.map(String),
    showgrid:true, gridcolor:"#FFFFFF", gridwidth:1.1, zeroline:false, showline:false,
    ticks:"outside", ticklen:3, tickwidth:1, tickcolor:"#333333",
    tickfont:{family:FONT, size:10, color:"#4D4D4D"},
    minor:{dtick:250, tick0:0, showgrid:true, gridcolor:"#FFFFFF", gridwidth:0.55, ticks:""},
    fixedrange:true};
}
function yAxis(domain, anchor, showLabels, title){
  const a = {domain, anchor, range:[8.5,41.5], tickvals:yTicks, ticktext:yTicks.map(String),
    showgrid:true, gridcolor:"#FFFFFF", gridwidth:1.1, zeroline:false, showline:false,
    ticks: showLabels ? "outside" : "", ticklen:3, tickwidth:1, tickcolor:"#333333",
    showticklabels:showLabels, tickfont:{family:FONT, size:10, color:"#4D4D4D"},
    minor:{dtick:5, tick0:0, showgrid:true, gridcolor:"#FFFFFF", gridwidth:0.55, ticks:""},
    fixedrange:true};
  if (title) a.title = {text:title, font:{family:FONT, size:12.5, color:"#000000"}, standoff:4};
  return a;
}

const shapes = [], annotations = [];
// facet strips
[[colL,rowTop,0],[colR,rowTop,1],[colL,rowBot,0],[colR,rowBot,1]].forEach(([c,r,i])=>{
  const top = r[1] + 19.3/H;
  shapes.push({type:"rect", xref:"paper", yref:"paper", x0:c[0], x1:c[1], y0:r[1], y1:top,
    fillcolor:"#D9D9D9", line:{width:0}, layer:"below"});
  annotations.push({xref:"paper", yref:"paper", x:(c[0]+c[1])/2, y:(r[1]+top)/2, text:facetLabels[i],
    showarrow:false, xanchor:"center", yanchor:"middle", font:{family:FONT, size:9.8, color:"#1A1A1A"}});
});
// x axis titles ("Days") centred under both panels
[[420],[869]].forEach(([yy])=>{
  annotations.push({xref:"paper", yref:"paper", x:(colL[0]+colR[1])/2, y:py(yy), text:"Days",
    showarrow:false, xanchor:"center", yanchor:"middle", font:{family:FONT, size:12.5, color:"#000000"}});
});
// second plot title
annotations.push({xref:"paper", yref:"paper", x:colL[0], y:py(457), text:"MDT non-dominant side trajectory by above VS below median MDT",
  showarrow:false, xanchor:"left", yanchor:"middle", font:{family:FONT, size:15, color:"#000000"}});
// legends (ggplot style keys)
[[195],[645]].forEach(([ty])=>{
  annotations.push({xref:"paper", yref:"paper", x:px(588), y:py(ty), text:legendTitle, showarrow:false,
    xanchor:"left", yanchor:"middle", font:{family:FONT, size:12.5, color:"#000000"}});
  const k0 = ty + 12.5;
  shapes.push({type:"rect", xref:"paper", yref:"paper", x0:px(588.3), x1:px(608), y0:py(k0+39.5), y1:py(k0),
    fillcolor:"#CFCFCF", line:{width:0}});
  facetLabels.forEach((lab,i)=>{
    const cy = k0 + 9.8 + i*19.8;
    shapes.push({type:"line", xref:"paper", yref:"paper", x0:px(590), x1:px(606.5), y0:py(cy), y1:py(cy),
      line:{color:colors[lab], width:4}});
    annotations.push({xref:"paper", yref:"paper", x:px(615), y:py(cy), text:lab, showarrow:false,
      xanchor:"left", yanchor:"middle", font:{family:FONT, size:10, color:"#000000"}});
  });
});

const layout = {
  width:W, height:H, margin:{l:0,r:0,t:0,b:0}, autosize:false,
  paper_bgcolor:"#FFFFFF", plot_bgcolor:"#EBEBEB", showlegend:false,
  font:{family:FONT, color:"#000000"},
  title:{text:"MDT dominant side trajectory by above VS below median MDT", x:colL[0], xanchor:"left",
    xref:"paper", y:py(8), yanchor:"middle", yref:"paper", font:{family:FONT, size:15, color:"#000000"}},
  xaxis: xAxis(colL,"y"), yaxis: yAxis(rowTop,"x",true,"MDT dominant"),
  xaxis2: xAxis(colR,"y2"), yaxis2: yAxis(rowTop,"x2",false,null),
  xaxis3: xAxis(colL,"y3"), yaxis3: yAxis(rowBot,"x3",true,"MDT non-dominant"),
  xaxis4: xAxis(colR,"y4"), yaxis4: yAxis(rowBot,"x4",false,null),
  shapes, annotations
};
Plotly.newPlot("chart", traces, layout, {displayModeBar:false, staticPlot:true});
</script>
</body>
</html>
